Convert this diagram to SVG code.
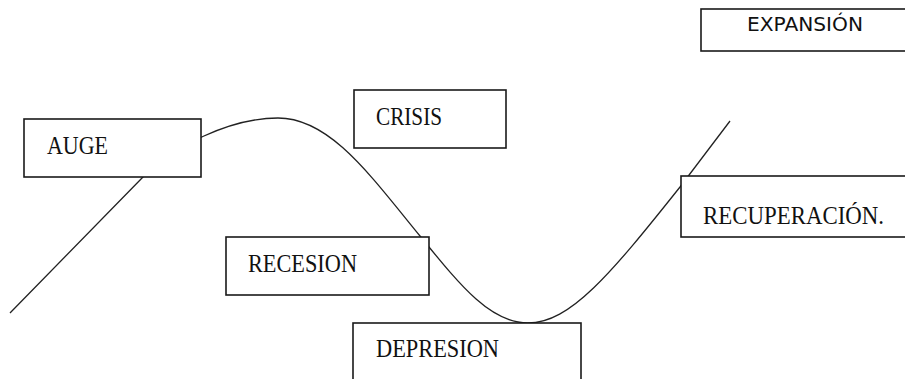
<svg xmlns="http://www.w3.org/2000/svg" width="905" height="379" viewBox="0 0 905 379">
<style>
.box{fill:#fff;stroke:#1a1a1a;stroke-width:1.6}
.lbl{font-family:"Liberation Serif","Times New Roman",serif;font-size:26px;fill:#111}
.sans{font-family:"DejaVu Sans",sans-serif;font-size:20px;fill:#111}
.curve{fill:none;stroke:#222;stroke-width:1.3}
</style>
<rect width="905" height="379" fill="#fff"/>
<g id="connectors">
<path class="curve" d="M10,313 L143,177 C172,147 230,118 278,118 C330,118 370,175 420,236 C460,285 490,323 528,323 C570,323 610,275 680,187 L730,121"/>
</g>
<g id="expansion">
<rect class="box" x="701" y="9" width="210" height="42"/>
<text class="sans" x="747" y="31" textLength="116" lengthAdjust="spacingAndGlyphs">EXPANSIÓN</text>
</g>
<g id="auge">
<rect class="box" x="24" y="119" width="177" height="58"/>
<text class="lbl" x="47" y="154" textLength="61" lengthAdjust="spacingAndGlyphs">AUGE</text>
</g>
<g id="crisis">
<rect class="box" x="354" y="90" width="152" height="58"/>
<text class="lbl" x="376" y="125" textLength="66" lengthAdjust="spacingAndGlyphs">CRISIS</text>
</g>
<g id="recesion">
<rect class="box" x="226" y="237" width="203" height="58"/>
<text class="lbl" x="248" y="272" textLength="109" lengthAdjust="spacingAndGlyphs">RECESION</text>
</g>
<g id="depresion">
<rect class="box" x="353" y="323" width="228" height="70"/>
<text class="lbl" x="376" y="357" textLength="123" lengthAdjust="spacingAndGlyphs">DEPRESION</text>
</g>
<g id="recuperacion">
<rect class="box" x="681" y="176" width="230" height="61"/>
<text class="lbl" x="703" y="224" textLength="181" lengthAdjust="spacingAndGlyphs">RECUPERACIÓN.</text>
</g>
</svg>
